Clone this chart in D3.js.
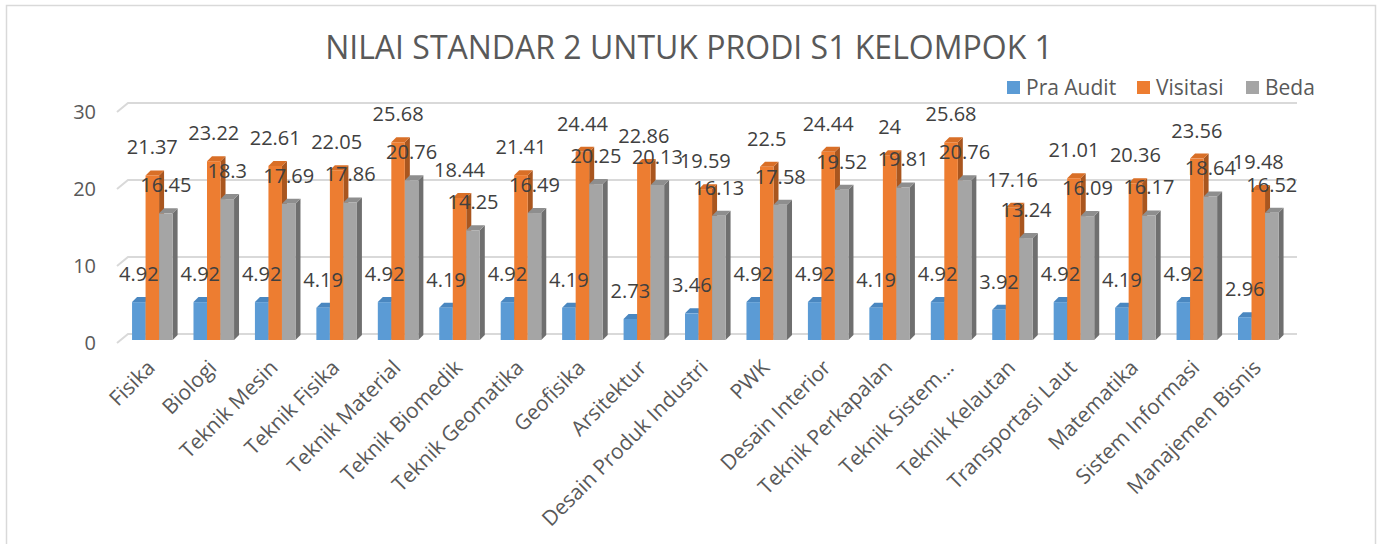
<!DOCTYPE html>
<html>
<head>
<meta charset="utf-8">
<script src="https://cdn.jsdelivr.net/npm/d3@7"></script>
<style>
    body { margin: 0; background: #fff; }
    text { font-family: "Open Sans", sans-serif; }
</style>
</head>
<body>
<div id="chart"></div>
<script>
/* chart data */
let categories = ["Fisika", "Biologi", "Teknik Mesin", "Teknik Fisika", "Teknik Material",
    "Teknik Biomedik", "Teknik Geomatika", "Geofisika", "Arsitektur", "Desain Produk Industri",
    "PWK", "Desain Interior", "Teknik Perkapalan", "Teknik Sistem…", "Teknik Kelautan",
    "Transportasi Laut", "Matematika", "Sistem Informasi", "Manajemen Bisnis"];
let praAudit = [4.92, 4.92, 4.92, 4.19, 4.92, 4.19, 4.92, 4.19, 2.73, 3.46,
    4.92, 4.92, 4.19, 4.92, 3.92, 4.92, 4.19, 4.92, 2.96];
let visitasi = [21.37, 23.22, 22.61, 22.05, 25.68, 18.44, 21.41, 24.44, 22.86, 19.59,
    22.5, 24.44, 24, 25.68, 17.16, 21.01, 20.36, 23.56, 19.48];
let beda = [16.45, 18.3, 17.69, 17.86, 20.76, 14.25, 16.49, 20.25, 20.13, 16.13,
    17.58, 19.52, 19.81, 20.76, 13.24, 16.09, 16.17, 18.64, 16.52];
let seriesNames = ["Pra Audit", "Visitasi", "Beda"];
let yTicks = [0, 10, 20, 30];

let width = 1382;
let height = 544;

/* face colours: front, top, side */
let colors = {
    "Pra Audit": ["#5B9BD5", "#4A87C0", "#3D6E9C"],
    "Visitasi": ["#ED7D31", "#D96F27", "#A9561F"],
    "Beda": ["#A5A5A5", "#8E8E8E", "#6F6F6F"]
};

let series = [praAudit, visitasi, beda];

let svg = d3.select("#chart")
    .append("svg")
    .attr("width", width)
    .attr("height", height)
    .style("display", "block");

/* chart border */
svg.append("rect")
    .attr("x", 6.5).attr("y", 5.5)
    .attr("width", 1369).attr("height", 560)
    .attr("fill", "#fff")
    .attr("stroke", "#D9D9D9")
    .attr("stroke-width", 1.5);

/* 3d depth offset */
let dx = 5, dy = -5;
let wallDx = 11, wallDy = -9;

let yScale = d3.scaleLinear().domain([0, 30]).range([343, 112]);

let x0 = d3.scaleBand()
    .domain(categories)
    .range([121.6, 1289])
    .paddingInner(0.34)
    .paddingOuter(0.17);

let x1 = d3.scaleBand()
    .domain(seriesNames)
    .range([0, x0.bandwidth()]);

/* gridlines with the slanted side wall */
let grid = svg.append("g");
yTicks.forEach(function(t) {
    let y = yScale(t);
    grid.append("path")
        .attr("d", "M117," + y + " L" + (117 + wallDx) + "," + (y + wallDy) + " L1297," + (y + wallDy))
        .attr("fill", "none")
        .attr("stroke", "#D9D9D9")
        .attr("stroke-width", 2);
});

/* y axis labels */
let yAxis = d3.axisLeft(yScale).tickValues(yTicks).tickSize(0).tickPadding(0);
let yg = svg.append("g")
    .attr("transform", "translate(96,0)")
    .call(yAxis);
yg.select(".domain").remove();
yg.selectAll("text")
    .attr("fill", "#595959")
    .style("font-size", "20px")
    .style("font-family", "'Open Sans', sans-serif");

/* bars */
let base = yScale(0) - 3;
let barGroups = svg.append("g").selectAll("g")
    .data(categories)
    .enter()
    .append("g")
    .attr("transform", function(d) { return "translate(" + x0(d) + ",0)"; });

seriesNames.forEach(function(name, si) {
    barGroups.each(function(cat, ci) {
        let g = d3.select(this);
        let v = series[si][ci];
        let xl = x1(name);
        let w = x1.bandwidth();
        let top = yScale(v) - 3;
        let c = colors[name];
        // side face
        g.append("path")
            .attr("d", "M" + (xl + w) + "," + base + " L" + (xl + w) + "," + top +
                " L" + (xl + w + dx) + "," + (top + dy) + " L" + (xl + w + dx) + "," + (base + dy) + "Z")
            .attr("fill", c[2]);
        // top face
        g.append("path")
            .attr("d", "M" + xl + "," + top + " L" + (xl + w) + "," + top +
                " L" + (xl + w + dx) + "," + (top + dy) + " L" + (xl + dx) + "," + (top + dy) + "Z")
            .attr("fill", c[1]);
        // front face
        g.append("rect")
            .attr("x", xl)
            .attr("y", top)
            .attr("width", w)
            .attr("height", base - top)
            .attr("fill", c[0]);
    });
});

/* data labels */
seriesNames.forEach(function(name, si) {
    svg.append("g").selectAll("text")
        .data(categories)
        .enter()
        .append("text")
        .attr("x", function(d) { return x0(d) + x1(name) + x1.bandwidth() / 2; })
        .attr("y", function(d, i) { return yScale(series[si][i]) - 31; })
        .attr("dy", "0.35em")
        .attr("text-anchor", "middle")
        .attr("fill", "#404040")
        .style("font-size", "20px")
        .text(function(d, i) { return series[si][i]; });
});

/* x axis labels, rotated */
svg.append("g").selectAll("text")
    .data(categories)
    .enter()
    .append("text")
    .attr("transform", function(d) {
        return "translate(" + (x0(d) + x0.bandwidth() / 2 + 4) + ",369) rotate(-45)";
    })
    .attr("text-anchor", "end")
    .attr("fill", "#595959")
    .style("font-size", "21px")
    .text(function(d) { return d; });

/* title */
svg.append("text")
    .attr("x", 689)
    .attr("y", 59)
    .attr("text-anchor", "middle")
    .attr("fill", "#595959")
    .style("font-size", "32px")
    .text("NILAI STANDAR 2 UNTUK PRODI S1 KELOMPOK 1");

/* legend */
let legendX = [1007, 1137, 1246];
let legend = svg.append("g").selectAll("g")
    .data(seriesNames)
    .enter()
    .append("g")
    .attr("transform", function(d, i) { return "translate(" + legendX[i] + ",81)"; });
legend.append("rect")
    .attr("width", 13).attr("height", 13)
    .attr("fill", function(d) { return colors[d][0]; });
legend.append("text")
    .attr("x", 19)
    .attr("y", 7)
    .attr("dy", "0.35em")
    .attr("fill", "#595959")
    .style("font-size", "21px")
    .text(function(d) { return d; });
</script>
</body>
</html>
